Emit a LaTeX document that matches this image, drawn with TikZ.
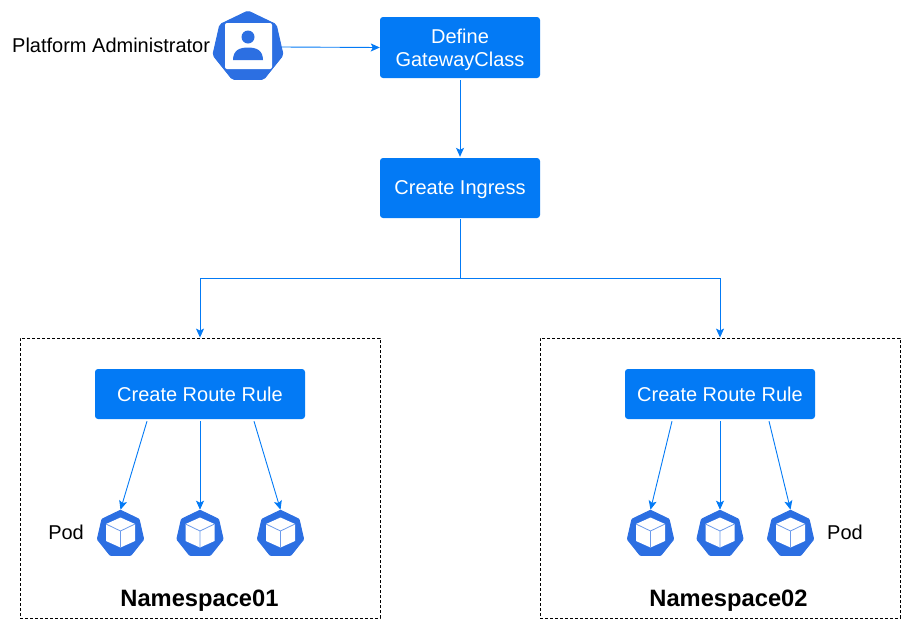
\documentclass[tikz,border=0pt]{standalone}
\usepackage{fontspec}
\setmainfont{Liberation Sans}
\usetikzlibrary{shapes.geometric,positioning,calc,arrows.meta}
\definecolor{stepblue}{HTML}{037AF5}
\definecolor{iconblue}{HTML}{2C6FE2}
\tikzset{ARROW/.style={draw=stepblue, line width=0.9pt, -{Stealth[length=9pt,width=8pt,inset=2pt]}}}
\tikzset{STEPBOX/.style={rectangle, fill=stepblue, rounded corners=3pt, text=white, minimum height=50pt, align=center, inner sep=0pt, font=\fontsize{20}{23.5}\selectfont}}
\tikzset{NAMESPACE/.style={rectangle, draw, line width=0.8pt, dash pattern=on 3pt off 2pt, minimum width=360pt, minimum height=280pt}}
\tikzset{NSLABEL/.style={text depth=0pt, font=\fontsize{23.7}{28}\selectfont\bfseries}}
\tikzset{PLAIN/.style={inner sep=0pt, yshift=1.5pt, font=\fontsize{20}{24}\selectfont}}
\tikzset{POD/.style={regular polygon, regular polygon sides=7, fill=iconblue, draw=iconblue, line width=1pt, rounded corners=1pt, minimum size=47.5pt, inner sep=0pt}}
\tikzset{ADMIN/.style={regular polygon, regular polygon sides=7, fill=iconblue, draw=iconblue, line width=1pt, rounded corners=2pt, minimum size=72pt, inner sep=0pt}}

\begin{document}
\begin{tikzpicture}[x=1pt, y=-1pt]
    \useasboundingbox (0,0) rectangle (902,619);

    \node[NAMESPACE] (ns1) at (200,478) {};
    \node[NAMESPACE] (ns2) at (720,478) {};
    \node[NSLABEL] (ns1_label) at (199.5,598) {Namespace01};
    \node[NSLABEL] (ns2_label) at (728.5,598) {Namespace02};

    \node[STEPBOX, text depth=0pt, minimum width=160pt, minimum height=61pt] (define) at (460,47.5) {Define\\GatewayClass};
    \node[STEPBOX, text depth=0pt, minimum width=160pt, minimum height=60pt] (ingress) at (460,188) {Create Ingress};
    \node[STEPBOX, minimum width=210pt] (route1) at (200,394) {Create Route Rule};
    \node[STEPBOX, minimum width=190pt] (route2) at (720,394) {Create Route Rule};

    % administrator icon
    \node[ADMIN] (admin) at (248,47) {};
    \fill[white, rounded corners=2pt] (225,23) rectangle (272,69);
    \fill[iconblue] (248,37) circle (6.5);
    \fill[iconblue] (233,60) .. controls (233,50) and (240,47.5) .. (248,47.5) .. controls (256,47.5) and (263,50) .. (263,60) -- cycle;
    \node[PLAIN, left=4pt of admin] (admin_label) {Platform Administrator};

    % pods
    \foreach \name/\x in {pod11/120.5, pod12/200, pod13/280.5, pod21/650.5, pod22/720, pod23/790.5} {
        \node[POD] (\name) at (\x,534) {};
        \fill[white] (\x,517.5) -- ++(14.5,6.5) -- ++(0,17) -- ++(-14.5,6.5) -- ++(-14.5,-6.5) -- ++(0,-17) -- cycle;
        \draw[iconblue!70!white, line width=0.8pt] (\x-14.5,524) -- (\x,531) -- (\x+14.5,524) (\x,531) -- (\x,547.5);
    }
    \node[PLAIN, left=14pt of pod11] (pod_label1) {Pod};
    \node[PLAIN, right=14pt of pod23] (pod_label2) {Pod};

    \draw[ARROW] (admin.east) -- (define.west);
    \draw[ARROW, shorten <=2pt, shorten >=1pt] (define.south) -- (ingress.north);
    \coordinate (split) at ($(ingress.south)+(0,60)$);
    \draw[ARROW, shorten <=1pt] (ingress.south) -- (split) -| (ns1.north);
    \draw[ARROW] (split) -| (ns2.north);

    \draw[ARROW] ($(route1.south)+(-53,2)$) -- (pod11.north);
    \draw[ARROW] ($(route1.south)+(0,2)$) -- (pod12.north);
    \draw[ARROW] ($(route1.south)+(54,2)$) -- (pod13.north);
    \draw[ARROW] ($(route2.south)+(-48,2)$) -- (pod21.north);
    \draw[ARROW] ($(route2.south)+(0,2)$) -- (pod22.north);
    \draw[ARROW] ($(route2.south)+(49,2)$) -- (pod23.north);

\end{tikzpicture}
\end{document}
